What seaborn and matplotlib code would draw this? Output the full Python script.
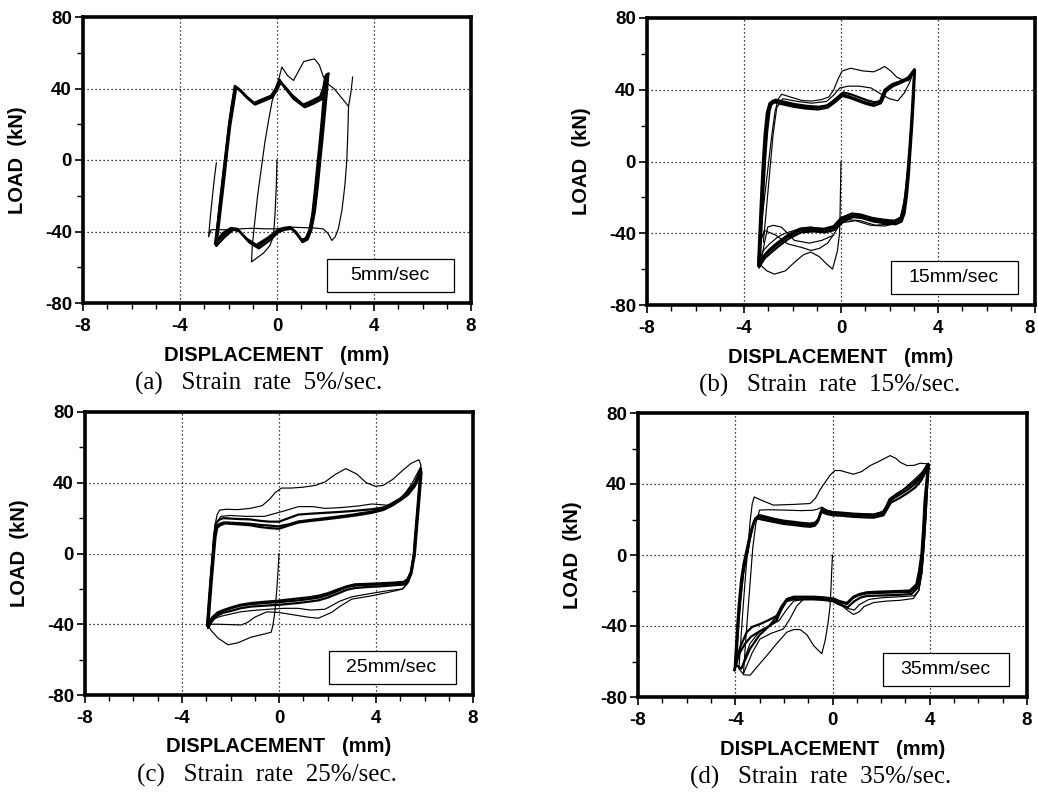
import numpy as np
import matplotlib
matplotlib.use("Agg")
import matplotlib.pyplot as plt
from matplotlib.patches import Rectangle
import seaborn as sns

# ---------------- axis texts ----------------
X_TICKS = [-8, -4, 0, 4, 8]
X_TICK_LABELS = ["-8", "-4", "0", "4", "8"]
Y_TICKS = [-80, -40, 0, 40, 80]
Y_TICK_LABELS = ["-80", "-40", "0", "40", "80"]
X_LABEL = "DISPLACEMENT   (mm)"
Y_LABEL = "LOAD  (kN)"
RATES = ["5mm/sec", "15mm/sec", "25mm/sec", "35mm/sec"]
CAPTIONS = ["(a)   Strain  rate  5%/sec.", "(b)   Strain  rate  15%/sec.",
            "(c)   Strain  rate  25%/sec.", "(d)   Strain  rate  35%/sec."]

# ---------------- panel (a) 5 mm/sec ----------------
A_FIRST_X = [0.0, -0.03, -0.08, -0.15, -0.3, -0.55, -0.85, -1.05, -1.02, -0.92, -0.8, -0.65, -0.5, -0.35, -0.2, -0.08, 0.05, 0.2, 0.45, 0.68, 0.9, 1.1, 1.35, 1.55, 1.75, 1.9, 2.05, 2.35, 2.65, 2.95, 3.05, 3.12]
A_FIRST_Y = [0, -15, -30, -43, -48, -52, -55, -57, -48, -35, -20, -5, 10, 22, 33, 38, 44, 52, 47, 44.5, 50, 55, 56, 56.5, 53, 47, 43, 40, 35, 30, 38, 46.5]
A_LAST_X = [2.95, 2.92, 2.88, 2.8, 2.68, 2.53, 2.4, 2.26, 2.1, 1.9, 1.5, 1.0, 0.5, 0.0, -0.5, -1.0, -1.5, -2.0, -2.4, -2.72, -2.82, -2.75, -2.66, -2.58, -2.5]
A_LAST_Y = [30, 15, 0, -14, -28, -38.5, -43, -45, -41, -38.5, -38, -37.8, -37.5, -38.5, -38.5, -38.2, -38.5, -39, -39, -39, -43, -32, -20, -10, -1.5]
A_C1_X = [-2.56, -2.45, -2.34, -2.22, -2.1, -1.98, -1.86, -1.72, -1.5, -1.25, -0.95, -0.6, -0.25, -0.05, 0.1, 0.3, 0.65, 1.1, 1.45, 1.8, 1.95, 2.05, 1.98, 1.9, 1.81, 1.72, 1.62, 1.5, 1.38, 1.22, 1.02, 0.8, 0.58, 0.3, 0.02, -0.35, -0.8, -1.2, -1.6, -1.85, -2.2, -2.56]
A_C1_Y = [-47, -36, -22, -8, 6, 20, 31, 41, 38.5, 35, 31.5, 33.5, 35.5, 40, 45, 41, 35, 30, 32, 34.5, 40, 48, 38, 25, 12, 0, -14, -28, -38, -43.5, -45, -41, -38, -38.5, -40, -44, -48.5, -45, -39, -38.5, -42, -47]
A_C2_X = [-2.5, -2.4, -2.28, -2.16, -2.05, -1.93, -1.8, -1.68, -1.45, -1.2, -0.9, -0.55, -0.2, 0.0, 0.15, 0.35, 0.7, 1.15, 1.5, 1.85, 2.02, 2.12, 2.05, 1.96, 1.87, 1.78, 1.68, 1.56, 1.42, 1.26, 1.05, 0.85, 0.6, 0.32, 0.05, -0.3, -0.75, -1.15, -1.55, -1.8, -2.15, -2.5]
A_C2_Y = [-48, -37, -23, -9, 5, 19, 30, 40.5, 38, 34.5, 31, 33, 35, 39, 43.5, 40, 34, 29.5, 31.5, 34, 41, 48.5, 37, 24, 11, -1, -15, -29, -39, -44.5, -46, -42, -38.5, -39, -40.5, -45, -49.5, -46, -40, -39, -43, -48]
A_C3_X = [-2.52, -2.44, -2.32, -2.2, -2.08, -1.96, -1.84, -1.74, -1.5, -1.25, -0.95, -0.6, -0.25, -0.08, 0.08, 0.3, 0.65, 1.08, 1.42, 1.78, 1.9, 2.0, 1.93, 1.85, 1.76, 1.67, 1.57, 1.46, 1.34, 1.18, 1.0, 0.8, 0.55, 0.28, 0.0, -0.38, -0.85, -1.25, -1.65, -1.9, -2.25, -2.52]
A_C3_Y = [-46, -35, -21, -7, 7, 21, 32, 41.5, 39, 35.5, 32, 34, 36, 39, 44, 41.5, 36, 31, 33, 35.5, 40, 47, 36, 23, 10, -2, -16, -30, -39, -44, -44.5, -40.5, -37.5, -38, -39.5, -43.5, -47.5, -44, -38.5, -38, -41, -46]

# ---------------- panel (b) 15 mm/sec ----------------
B_FIRST_X = [0.0, -0.02, -0.04, -0.06, -0.15, -0.35, -0.6, -0.9, -1.25, -1.55, -1.9, -2.3, -2.75, -3.05, -3.3, -3.42]
B_FIRST_Y = [0, -15, -30, -40, -50, -60, -57, -53, -50.5, -52, -56, -61, -62.8, -61, -58, -55]
B_SECOND_X = [-3.42, -3.33, -3.22, -3.1, -2.98, -2.86, -2.72, -2.58, -2.45, -2.1, -1.6, -1.2, -0.8, -0.5, -0.3, -0.12, 0.05, 0.4, 0.9, 1.35, 1.6, 1.8, 2.05, 2.3, 2.55, 2.78, 2.92, 3.03]
B_SECOND_Y = [-55, -42, -28, -14, 0, 14, 28, 35, 37.5, 36, 34, 33.7, 34.5, 36, 40, 46, 50.5, 52, 50.5, 50, 51.5, 53, 50.5, 47, 45.5, 45, 48, 51.5]
B_THIRD_X = [-3.2, -3.1, -3.0, -2.9, -2.8, -2.65, -2.4, -1.8, -1.2, -0.6, -0.3, -0.05, 0.3, 0.75, 1.24, 1.66, 2.0, 2.34, 2.6, 2.83, 3.03, 2.97, 2.9, 2.82, 2.72, 2.6, 2.45, 2.0, 1.4, 0.8, 0.3, -0.05, -0.27, -0.55, -0.9, -1.24, -1.6, -2.2, -2.7, -3.16, -3.3, -3.38]
B_THIRD_Y = [-45, -30, -15, 0, 15, 30, 35, 33.5, 32.5, 33.5, 37, 41, 42, 42, 41, 37.5, 35, 33.8, 38, 44, 51.5, 37, 22, 7, -8, -22, -31, -35, -35.5, -33, -32.5, -35, -40, -45.5, -48.5, -49.6, -48, -45.9, -41, -38.4, -44, -52]
B_FOURTH_X = [2.45, 1.8, 1.2, 0.6, 0.1, -0.2, -0.41, -0.8, -1.24, -1.6, -1.92, -2.3, -2.6, -2.95, -3.2, -3.37]
B_FOURTH_Y = [-34, -36, -35.5, -33, -34, -37, -39.3, -38, -36.5, -37, -38.4, -40, -42, -46, -49.6, -55]
B_FIFTH_X = [-0.3, -0.8, -1.3, -1.92, -2.2, -2.47, -2.8, -3.02, -3.15, -3.3]
B_FIFTH_Y = [-41, -44, -45.5, -44, -40, -36.5, -35.6, -36.5, -45, -56]
B_C1_X = [-3.42, -3.38, -3.33, -3.28, -3.22, -3.15, -3.06, -2.95, -2.8, -2.5, -2.0, -1.5, -1.0, -0.6, -0.3, 0.0, 0.3, 0.7, 1.0, 1.3, 1.6, 1.8, 2.1, 2.45, 2.75, 3.03, 2.98, 2.92, 2.85, 2.78, 2.7, 2.6, 2.48, 2.2, 1.8, 1.3, 0.8, 0.5, 0.0, -0.3, -0.7, -1.2, -1.7, -2.2, -2.6, -2.95, -3.2, -3.42]
B_C1_Y = [-58, -45, -30, -15, 0, 15, 27, 32.5, 34, 33, 31.5, 30.5, 30, 31, 34, 37.5, 36.5, 34.5, 33, 32, 33.5, 40, 43, 44.5, 46.5, 51.5, 36, 22, 8, -6, -18, -28, -32.5, -34, -33.5, -32.5, -30.5, -30, -32.5, -37, -38.5, -38, -38.5, -42, -46, -50, -53, -58]
B_C2_X = [-3.38, -3.34, -3.29, -3.24, -3.18, -3.11, -3.02, -2.9, -2.75, -2.45, -1.95, -1.45, -0.95, -0.55, -0.25, 0.05, 0.35, 0.75, 1.05, 1.35, 1.65, 1.85, 2.15, 2.5, 2.8, 3.05, 3.0, 2.94, 2.87, 2.8, 2.72, 2.62, 2.5, 2.25, 1.85, 1.35, 0.85, 0.5, 0.05, -0.25, -0.65, -1.15, -1.65, -2.15, -2.55, -2.9, -3.15, -3.38]
B_C2_Y = [-59, -46, -31, -16, -1, 14, 26, 31.5, 33, 32, 30.5, 29.5, 29, 30, 33, 36.5, 35.5, 33.5, 32, 31, 32.5, 39, 42, 44, 46, 51, 35, 21, 7, -7, -19, -29, -33.5, -35, -34.5, -33.5, -31.5, -31, -33.5, -38, -39.5, -39, -39.5, -43, -47, -51, -54, -59]
B_C3_X = [-3.35, -3.3, -3.25, -3.19, -3.13, -3.05, -2.95, -2.85, -2.7, -2.4, -1.9, -1.4, -0.9, -0.5, -0.2, 0.1, 0.4, 0.8, 1.1, 1.4, 1.7, 1.9, 2.2, 2.5, 2.8, 3.02, 2.96, 2.9, 2.83, 2.75, 2.67, 2.57, 2.45, 2.2, 1.8, 1.3, 0.8, 0.45, 0.0, -0.3, -0.7, -1.2, -1.7, -2.2, -2.6, -2.95, -3.15, -3.35]
B_C3_Y = [-57, -44, -29, -14, 1, 16, 28, 33, 34.5, 33.5, 32, 31, 30.5, 31.5, 35, 38.5, 37.5, 35.5, 34, 33, 34, 41, 43.5, 45, 47, 51, 37, 23, 9, -5, -17, -27, -31.5, -33, -32.5, -31.5, -29.5, -29, -31.5, -36, -37.5, -37, -37.5, -41, -45, -49, -52, -57]

# ---------------- panel (c) 25 mm/sec ----------------
C_FIRST_X = [0.0, -0.04, -0.1, -0.17, -0.25, -0.32, -0.6, -1.15, -1.7, -2.1, -2.5, -2.8, -2.95]
C_FIRST_Y = [0, -10, -22, -33, -40.5, -44.5, -45.5, -47.3, -50.5, -51.6, -48, -43.5, -40]
C_SECOND_X = [-2.95, -2.88, -2.8, -2.72, -2.64, -2.55, -2.45, -2.2, -1.7, -1.2, -0.7, -0.4, -0.15, 0.1, 0.5, 1.0, 1.5, 1.9, 2.3, 2.75, 3.2, 3.6, 3.97, 4.3, 4.7, 5.1, 5.45, 5.77, 5.85]
C_SECOND_Y = [-40, -25, -10, 5, 16, 22, 24.5, 25, 24.8, 25.5, 27, 30.5, 34.5, 37, 37, 37.5, 38.5, 40.5, 44.5, 48, 45, 40, 38, 38.5, 42, 47, 51, 53, 50]
C_THIRD_X = [5.85, 5.78, 5.7, 5.62, 5.52, 5.35, 5.08, 4.5, 3.83, 3.0, 2.5, 2.17, 1.62, 1.2, 0.79, 0.3, -0.04, -0.5, -1.0, -1.3, -1.56, -2.0, -2.5, -2.95]
C_THIRD_Y = [50, 35, 20, 5, -8, -16, -20.2, -22, -23.9, -25.8, -30, -33.3, -36.6, -36, -35.1, -34, -33.3, -33, -36, -39, -40.4, -40.2, -40, -40]
C_FOURTH_X = [-2.95, -2.86, -2.77, -2.68, -2.58, -2.4, -2.0, -1.4, -0.6, 0.2, 0.8, 1.4, 1.9, 2.6, 3.28, 3.83, 4.3, 4.66, 4.95, 5.2, 5.5, 5.84, 5.76, 5.66, 5.56, 5.45, 5.3, 5.1, 4.5, 3.83, 3.0, 2.5, 1.9, 1.3, 0.79, 0.2, -0.4, -1.15, -1.6, -1.98, -2.4, -2.7, -2.95]
C_FOURTH_Y = [-40, -25, -10, 5, 17, 21, 21.5, 21, 21, 24, 26.5, 26.5, 25.5, 26, 26.9, 28, 27.5, 27, 29.5, 34, 40, 49, 35, 18, 2, -10, -17, -20, -21, -22.5, -24.5, -27, -31.5, -32, -31, -31, -31.5, -32.3, -33, -34.2, -35.5, -37, -40]
C_C1_X = [-2.95, -2.88, -2.8, -2.72, -2.65, -2.58, -2.45, -2.26, -1.7, -1.2, -0.87, -0.4, -0.04, 0.4, 0.79, 1.3, 1.9, 2.5, 3.0, 3.4, 3.83, 4.3, 4.66, 5.0, 5.36, 5.6, 5.84, 5.78, 5.72, 5.66, 5.6, 5.56, 5.5, 5.43, 5.3, 5.15, 4.7, 4.25, 3.6, 3.14, 2.8, 2.45, 2.0, 1.62, 1.2, 0.79, 0.4, -0.04, -0.6, -1.15, -1.6, -1.98, -2.3, -2.53, -2.75, -2.95]
C_C1_Y = [-39.8, -27, -13, 0, 10, 15.3, 16.8, 17.6, 17.2, 16.8, 16.3, 15.8, 15.3, 16.5, 18.1, 19, 20, 21, 21.9, 22.8, 23.7, 25.5, 28.4, 31, 34, 39, 47.1, 38, 28, 18, 8, 0, -5, -10.8, -14.5, -16, -16.5, -16.8, -17.2, -17.4, -18.5, -20.2, -22.5, -23.9, -24.8, -25.4, -26, -26.7, -27.3, -28, -29, -30.5, -32, -33.3, -36, -39.8]
C_C2_X = [-2.92, -2.85, -2.77, -2.69, -2.62, -2.55, -2.42, -2.22, -1.7, -1.2, -0.8, -0.35, 0.0, 0.4, 0.8, 1.3, 1.9, 2.5, 3.0, 3.4, 3.83, 4.3, 4.66, 5.0, 5.3, 5.6, 5.88, 5.82, 5.76, 5.7, 5.64, 5.6, 5.53, 5.46, 5.33, 5.18, 4.7, 4.25, 3.6, 3.14, 2.8, 2.45, 2.0, 1.62, 1.2, 0.79, 0.4, 0.0, -0.6, -1.15, -1.6, -1.98, -2.3, -2.53, -2.75, -2.92]
C_C2_Y = [-42, -29, -15, -2, 9, 14.5, 16, 17, 16.5, 16, 15, 14.3, 14, 15.8, 17.5, 18.4, 19.3, 20.3, 21.2, 22, 23, 24.6, 27, 30, 33, 38, 46, 36, 26, 16, 6, -1, -6, -11.5, -15.5, -17.5, -18, -18.5, -19, -19.5, -20.5, -22.5, -25, -26.5, -27.3, -28, -28.5, -29, -29.5, -30, -31, -32.5, -33.5, -35, -38, -42]
C_C3_X = [-2.97, -2.9, -2.82, -2.74, -2.67, -2.6, -2.48, -2.3, -1.7, -1.2, -0.8, -0.4, 0.0, 0.4, 0.8, 1.3, 1.9, 2.5, 3.0, 3.4, 3.83, 4.3, 4.66, 5.0, 5.3, 5.6, 5.86, 5.8, 5.74, 5.68, 5.62, 5.58, 5.51, 5.44, 5.31, 5.16, 4.7, 4.25, 3.6, 3.14, 2.8, 2.45, 2.0, 1.62, 1.2, 0.79, 0.4, 0.0, -0.6, -1.15, -1.6, -1.98, -2.3, -2.53, -2.75, -2.97]
C_C3_Y = [-41, -28, -14, -1, 11, 17, 19, 20, 19.5, 19.3, 18.5, 18, 18, 20, 22, 22.5, 23, 23.5, 24, 24.5, 25, 26, 28, 31, 35, 40, 48, 37, 27, 17, 7, 0, -5, -10.5, -14.5, -16.5, -17, -17.4, -17.8, -18.1, -19, -21, -23.5, -25, -25.8, -26.5, -27, -27.5, -28, -28.6, -29.5, -31, -32.5, -34, -37, -41]

# ---------------- panel (d) 35 mm/sec ----------------
D_FIRST_X = [0.0, -0.03, -0.06, -0.1, -0.18, -0.3, -0.44, -0.6, -0.78, -1.05, -1.33, -1.6, -1.88, -2.3, -2.7, -3.1, -3.39, -3.65, -3.85]
D_FIRST_Y = [0, -8, -18, -28.7, -38, -48, -55.6, -53.5, -51, -45, -42, -42, -43.5, -50, -56.6, -63, -67.7, -67.5, -64]
D_SECOND_X = [-3.85, -3.77, -3.68, -3.58, -3.48, -3.38, -3.3, -3.22, -2.95, -2.43, -1.6, -0.92, -0.7, -0.5, -0.3, -0.1, 0.1, 0.32, 0.6, 0.86, 1.2, 1.55, 1.95, 2.37, 2.6, 2.78, 3.06, 3.35, 3.61, 3.95]
D_SECOND_Y = [-64, -48, -30, -12, 5, 20, 29, 32.7, 31, 28.1, 28.5, 29, 32, 37, 41, 45, 47.6, 47.6, 46.5, 45.5, 47, 50.4, 53, 56, 54.5, 52.3, 50.4, 50.5, 51.7, 51.3]
D_THIRD_X = [3.95, 3.9, 3.84, 3.77, 3.68, 3.55, 3.33, 2.8, 2.2, 1.69, 1.3, 1.1, 0.86, 0.6, 0.3, 0.0, -0.5, -1.0, -1.2, -1.47, -1.75, -2.02, -2.5, -2.98, -3.3, -3.66]
D_THIRD_Y = [51.3, 35, 20, 5, -10, -20, -24.5, -25.5, -26, -26.8, -29, -32, -33.5, -31, -27.5, -25.5, -24.5, -24.5, -25, -28.7, -36, -41.7, -44, -47.3, -55, -66.8]
D_FOURTH_X = [-3.66, -3.58, -3.48, -3.38, -3.28, -3.15, -3.0, -2.6, -2.0, -1.3, -0.8, -0.62, -0.44, -0.2, 0.1, 0.6, 1.2, 1.7, 2.05, 2.3, 2.6, 3.0, 3.4, 3.75, 3.95, 3.9, 3.84, 3.77, 3.68, 3.55, 3.35, 2.8, 2.1, 1.5, 1.1, 0.9, 0.6, 0.3, 0.0, -0.6, -1.2, -1.6, -1.9, -2.2, -2.6, -3.0, -3.4, -3.7]
D_FOURTH_Y = [-66.8, -50, -32, -14, 4, 18, 25.3, 25.5, 25.3, 25, 25.2, 25.8, 27, 25, 24, 23.3, 23, 23, 24.5, 29, 33, 38, 43, 47.5, 51, 35, 20, 5, -10, -20, -23, -23.5, -24, -25, -28, -31, -30, -27, -25.5, -25, -25, -26, -31, -37, -40, -43, -50, -62]
D_C1_X = [-4.0, -3.95, -3.88, -3.8, -3.7, -3.6, -3.53, -3.42, -3.3, -3.2, -3.05, -2.8, -2.43, -2.0, -1.6, -1.2, -0.92, -0.7, -0.58, -0.44, -0.2, 0.04, 0.45, 0.86, 1.3, 1.69, 2.1, 2.37, 2.7, 3.06, 3.35, 3.61, 3.95, 3.88, 3.81, 3.75, 3.68, 3.58, 3.47, 3.2, 2.7, 2.24, 1.8, 1.41, 1.1, 0.86, 0.59, 0.3, 0.04, -0.4, -0.78, -1.2, -1.6, -1.88, -2.1, -2.29, -2.6, -2.98, -3.3, -3.53, -3.8, -4.0]
D_C1_Y = [-63, -52, -38, -25, -12, -4, 0, 8, 15, 19.7, 21.6, 20.8, 19.7, 18.5, 17.9, 17.2, 16.9, 17.5, 19.7, 25.3, 24, 23.4, 23, 22.5, 22.2, 22, 23.4, 30.9, 33.5, 36.5, 39.5, 43, 51.3, 41, 30.9, 15, 0, -10, -17.5, -20.8, -21, -21.2, -21.4, -21.6, -22.5, -24, -27.7, -26.5, -24.9, -24.3, -24, -24, -24, -24.9, -29, -34.2, -36.5, -38.9, -40.5, -43.5, -52, -63]
D_C2_X = [-4.03, -3.98, -3.92, -3.85, -3.76, -3.66, -3.58, -3.47, -3.35, -3.24, -3.1, -2.85, -2.45, -2.0, -1.6, -1.2, -0.92, -0.72, -0.6, -0.46, -0.22, 0.02, 0.45, 0.86, 1.3, 1.69, 2.1, 2.4, 2.75, 3.1, 3.4, 3.65, 3.97, 3.9, 3.84, 3.78, 3.71, 3.61, 3.5, 3.25, 2.7, 2.24, 1.8, 1.41, 1.15, 0.9, 0.62, 0.3, 0.0, -0.4, -0.78, -1.2, -1.6, -1.9, -2.12, -2.3, -2.6, -3.0, -3.35, -3.6, -3.85, -4.03]
D_C2_Y = [-65, -54, -40, -27, -14, -5, 0, 7, 14, 18.5, 20.6, 19.8, 18.7, 17.5, 16.9, 16.2, 15.9, 16.5, 18.7, 24.3, 23, 22.4, 22, 21.5, 21.2, 21, 22.4, 29.5, 32, 35, 38, 42, 50.5, 40, 30, 14, -1, -11, -18.5, -22, -22.5, -22.7, -22.9, -23.1, -24, -26, -29.5, -28, -26, -25.3, -25, -25, -25, -26, -31, -37, -40, -43, -46, -50, -56, -65]
D_C3_X = [-3.97, -3.92, -3.86, -3.78, -3.68, -3.58, -3.5, -3.4, -3.28, -3.18, -3.02, -2.8, -2.43, -2.0, -1.6, -1.2, -0.92, -0.7, -0.58, -0.44, -0.2, 0.04, 0.45, 0.86, 1.3, 1.69, 2.1, 2.35, 2.65, 3.0, 3.3, 3.58, 3.93, 3.86, 3.79, 3.73, 3.66, 3.56, 3.45, 3.18, 2.7, 2.24, 1.8, 1.41, 1.1, 0.86, 0.59, 0.3, 0.04, -0.4, -0.78, -1.2, -1.6, -1.88, -2.2, -2.6, -3.0, -3.4, -3.75, -3.97]
D_C3_Y = [-62, -51, -37, -24, -11, -3, 1, 9, 16, 20.5, 22.5, 21.8, 20.5, 19.3, 18.7, 18, 17.7, 18.3, 20.5, 26, 24.8, 24.2, 23.8, 23.3, 23, 22.8, 24.2, 31.5, 34.5, 37.5, 40.5, 44, 51.5, 41, 31, 15, 1, -9, -16.5, -20, -20.3, -20.5, -20.7, -21, -22, -23.5, -27, -26, -24.5, -23.8, -23.5, -23.5, -23.5, -24.9, -33, -40, -45, -53, -64, -62]

PANELS = [
    {"thin": [(A_FIRST_X, A_FIRST_Y), (A_LAST_X, A_LAST_Y)],
     "thick": [(A_C1_X, A_C1_Y), (A_C2_X, A_C2_Y), (A_C3_X, A_C3_Y)]},
    {"thin": [(B_FIRST_X, B_FIRST_Y), (B_SECOND_X, B_SECOND_Y), (B_THIRD_X, B_THIRD_Y),
              (B_FOURTH_X, B_FOURTH_Y), (B_FIFTH_X, B_FIFTH_Y)],
     "thick": [(B_C1_X, B_C1_Y), (B_C2_X, B_C2_Y), (B_C3_X, B_C3_Y)]},
    {"thin": [(C_FIRST_X, C_FIRST_Y), (C_SECOND_X, C_SECOND_Y), (C_THIRD_X, C_THIRD_Y),
              (C_FOURTH_X, C_FOURTH_Y)],
     "thick": [(C_C1_X, C_C1_Y), (C_C2_X, C_C2_Y), (C_C3_X, C_C3_Y)]},
    {"thin": [(D_FIRST_X, D_FIRST_Y), (D_SECOND_X, D_SECOND_Y), (D_THIRD_X, D_THIRD_Y),
              (D_FOURTH_X, D_FOURTH_Y)],
     "thick": [(D_C1_X, D_C1_Y), (D_C2_X, D_C2_Y), (D_C3_X, D_C3_Y)]},
]

# axes rectangles in pixels: left, top, right, bottom
W, H = 1038, 793
AX_PX = [(83, 17, 471, 303), (647, 18, 1035, 305), (85, 412, 473, 695), (638, 413, 1027, 697)]

sns.set_theme(style="white")
plt.rcParams["font.family"] = ["Liberation Sans", "DejaVu Sans"]

fig = plt.figure(figsize=(W / 100, H / 100), dpi=100)

for i, (l, t, r, b) in enumerate(AX_PX):
    ax = fig.add_axes([l / W, 1 - b / H, (r - l) / W, (b - t) / H])
    for xs, ys in PANELS[i]["thin"]:
        sns.lineplot(x=xs, y=ys, sort=False, estimator=None, color="black",
                     linewidth=0.85, ax=ax, zorder=3)
    for xs, ys in PANELS[i]["thick"]:
        sns.lineplot(x=xs, y=ys, sort=False, estimator=None, color="black",
                     linewidth=1.6, ax=ax, zorder=3)

    ax.set_xlim(-8, 8)
    ax.set_ylim(-80, 80)
    ax.set_xticks(X_TICKS)
    ax.set_xticklabels(X_TICK_LABELS, fontweight="bold", fontsize=13.5)
    ax.set_yticks(Y_TICKS)
    ax.set_yticklabels(Y_TICK_LABELS, fontweight="bold", fontsize=13.5)
    ax.set_xticks(np.arange(-8, 9, 1), minor=True)
    ax.set_yticks(np.arange(-80, 81, 20), minor=True)
    ax.tick_params(axis="both", which="both", bottom=True, left=True, top=False, right=False)
    ax.tick_params(axis="both", which="major", direction="out", length=6, width=1.2,
                   color="black", labelcolor="black")
    ax.tick_params(axis="x", which="major", pad=5)
    ax.tick_params(axis="y", which="major", pad=2)
    ax.tick_params(axis="both", which="minor", direction="out", length=4.5, width=1.0,
                   color="black")
    ax.grid(True, which="major", color="black", linestyle=(0, (1, 2.2)), linewidth=0.9)
    ax.grid(False, which="minor")
    for s in ax.spines.values():
        s.set_visible(True)
        s.set_color("black")
        s.set_linewidth(2.6)
    if i == 1:
        ax.get_xticklabels()[-1].set_horizontalalignment("right")

    ax.set_xlabel(X_LABEL, fontweight="bold", fontsize=14.5, color="black")
    ax.set_ylabel(Y_LABEL, fontweight="bold", fontsize=14.5, color="black")
    ax.xaxis.set_label_coords(0.5, -0.15)
    ax.yaxis.set_label_coords(-0.145, 0.5)

    ax.add_patch(Rectangle((0.63, 0.04), 0.325, 0.115, transform=ax.transAxes,
                           facecolor="white", edgecolor="black", linewidth=0.9, zorder=6))
    ax.text(0.79, 0.0975, RATES[i], transform=ax.transAxes, ha="center", va="center",
            fontsize=14, color="black", zorder=7)

    fig.text((l + 52) / W, 1 - (b + 87) / H, CAPTIONS[i], ha="left", va="baseline",
             fontsize=18, family=["Liberation Serif", "DejaVu Serif"], color="black")

fig.savefig("out.png", dpi=100)
